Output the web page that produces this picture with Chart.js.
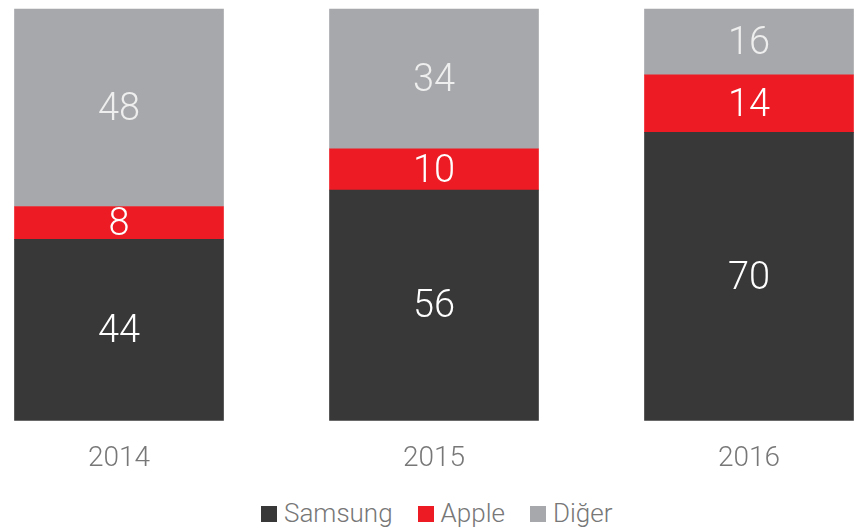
<!DOCTYPE html>
<html>
<head>
<meta charset="utf-8">
<script src="https://cdn.jsdelivr.net/npm/chart.js@4"></script>
<style>
  html, body { margin: 0; padding: 0; background: #fff; }
  #wrap { width: 862px; height: 496px; position: relative; }
  #legenda { position: absolute; left: 261px; top: 496px; display: flex; align-items: center;
             font-family: "Roboto Light", Roboto, Lato, sans-serif; font-weight: 300; font-size: 26px; color: #777; line-height: 34px; }
  #legenda .kutu { display: inline-block; width: 16px; height: 16px; margin-right: 7px; margin-top: 2px; }
  #legenda .oge { display: flex; align-items: center; margin-right: 25px; }
</style>
</head>
<body>
<div id="wrap"><canvas id="grafico"></canvas></div>
<div id="legenda"></div>
<script>
const yillar = ['2014', '2015', '2016'];
const seriler = ['Samsung', 'Apple', 'Diğer'];
const samsung = [44, 56, 70];
const apple = [8, 10, 14];
const diger = [48, 34, 16];
const renkler = ['#383838', '#ed1c24', '#a7a8ab'];

const yaziTipi = '"Roboto Light", Roboto, Lato, sans-serif';

// draws the value in the middle of each bar segment
const etiketEklentisi = {
    id: 'etiketler',
    afterDatasetsDraw(chart) {
        const ctx = chart.ctx;
        ctx.save();
        ctx.font = '300 38px ' + yaziTipi;
        ctx.textAlign = 'center';
        ctx.textBaseline = 'middle';
        chart.data.datasets.forEach((ds, i) => {
            const meta = chart.getDatasetMeta(i);
            meta.data.forEach((bar, j) => {
                const orta = (bar.y + bar.base) / 2;
                ctx.fillStyle = i === 2 ? '#eeeeee' : '#ffffff';
                ctx.fillText(String(ds.data[j]), bar.x, orta + 1);
            });
        });
        ctx.restore();
    }
};

function legendaOlustur(containerId, etiketler, cores) {
    const container = document.getElementById(containerId);
    container.innerHTML = etiketler.map((etiket, i) => `
        <span class="oge"><span class="kutu" style="background:${cores[i]}"></span>${etiket}</span>
    `).join('');
}

const ctx = document.getElementById('grafico').getContext('2d');
new Chart(ctx, {
    type: 'bar',
    data: {
        labels: yillar,
        datasets: [samsung, apple, diger].map((veri, i) => ({
            label: seriler[i],
            data: veri,
            backgroundColor: renkler[i],
            barThickness: 209,
            clip: false,
            borderWidth: 0
        }))
    },
    options: {
        responsive: true,
        maintainAspectRatio: false,
        animation: false,
        layout: {
            padding: { top: 9, left: 119, right: 113, bottom: 0 }
        },
        plugins: {
            tooltip: { enabled: false },
            legend: { display: false }
        },
        scales: {
            x: {
                stacked: true,
                offset: false,
                grid: { display: false, drawTicks: false },
                border: { display: false },
                ticks: {
                    padding: 21,
                    color: '#777777',
                    font: { family: yaziTipi, size: 28, weight: 300 }
                }
            },
            y: {
                stacked: true,
                display: false,
                min: 0,
                max: 100
            }
        }
    },
    plugins: [etiketEklentisi]
});

legendaOlustur('legenda', seriler, renkler);
</script>
</body>
</html>
